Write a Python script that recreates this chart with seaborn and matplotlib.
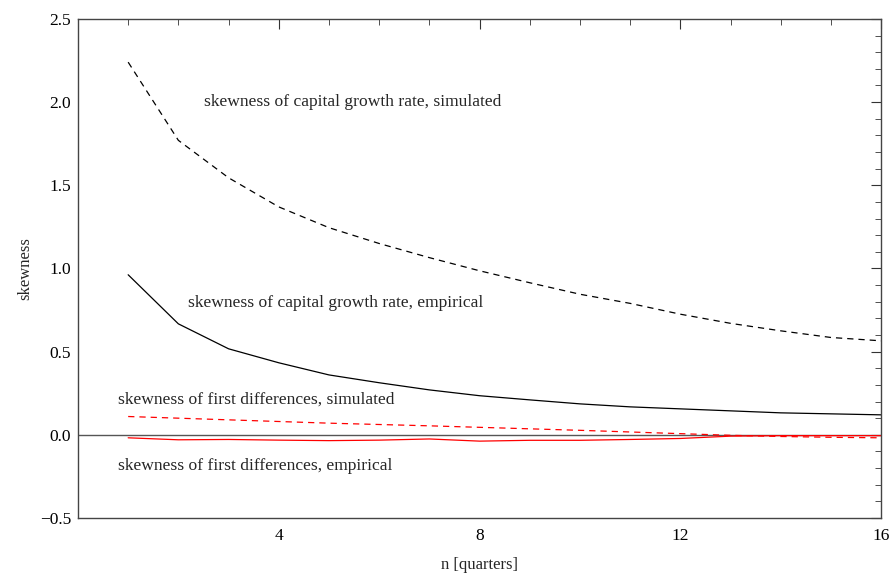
import numpy as np
import pandas as pd
import matplotlib
matplotlib.use("Agg")
import matplotlib.pyplot as plt
import seaborn as sns
from matplotlib.ticker import MultipleLocator, FixedLocator

sns.set_theme(style="white")
plt.rcParams['font.family'] = ['Liberation Serif', 'DejaVu Serif']
plt.rcParams['axes.unicode_minus'] = True

# quarters
n = list(range(1, 17))

# skewness of capital growth rate
cap_sim = [2.24, 1.77, 1.545, 1.37, 1.245, 1.15, 1.065, 0.986, 0.914, 0.845,
           0.79, 0.725, 0.67, 0.625, 0.585, 0.565]
cap_emp = [0.962, 0.667, 0.517, 0.433, 0.36, 0.313, 0.27, 0.235, 0.21, 0.186,
           0.168, 0.156, 0.144, 0.132, 0.126, 0.12]

# skewness of first differences
diff_sim = [0.11, 0.10, 0.09, 0.08, 0.07, 0.062, 0.054, 0.045, 0.036, 0.027,
            0.017, 0.007, -0.003, -0.01, -0.015, -0.018]
diff_emp = [-0.018, -0.03, -0.028, -0.032, -0.035, -0.032, -0.025, -0.038, -0.033,
            -0.033, -0.028, -0.022, -0.008, -0.005, -0.005, -0.005]

x_ticks = [4, 8, 12, 16]

df = pd.DataFrame({'n': n, 'cap_sim': cap_sim, 'cap_emp': cap_emp,
                   'diff_sim': diff_sim, 'diff_emp': diff_emp})

fig, ax = plt.subplots(figsize=(8.91, 5.73), dpi=100)
fig.subplots_adjust(left=0.0875, right=0.989, top=0.967, bottom=0.096)

ax.axhline(0, color='#555555', lw=1.0, zorder=1)

sns.lineplot(data=df, x='n', y='cap_sim', ax=ax, color='black', lw=0.9,
             linestyle=(0, (5, 4)))
sns.lineplot(data=df, x='n', y='cap_emp', ax=ax, color='black', lw=0.9)
sns.lineplot(data=df, x='n', y='diff_sim', ax=ax, color='red', lw=0.9,
             linestyle=(0, (5, 4)))
sns.lineplot(data=df, x='n', y='diff_emp', ax=ax, color='red', lw=0.9)

fs = 12.6
ax.text(2.52, 2.0, 'skewness of capital growth rate, simulated', fontsize=fs, va='center')
ax.text(2.2, 0.79, 'skewness of capital growth rate, empirical', fontsize=fs, va='center')
ax.text(0.8, 0.21, 'skewness of first differences, simulated', fontsize=fs, va='center')
ax.text(0.8, -0.19, 'skewness of first differences, empirical', fontsize=fs, va='center')

ax.set_xlim(0, 16)
ax.set_ylim(-0.5, 2.5)
ax.xaxis.set_major_locator(FixedLocator(x_ticks))
ax.xaxis.set_minor_locator(MultipleLocator(1))
ax.yaxis.set_major_locator(MultipleLocator(0.5))
ax.yaxis.set_minor_locator(MultipleLocator(0.1))
ax.tick_params(which='both', direction='in', top=True, right=True,
               labeltop=False, labelright=False, colors='#333333',
               labelcolor='black', labelsize=12.5)
ax.tick_params(which='major', length=7, width=0.8)
ax.tick_params(which='minor', length=4, width=0.6)
ax.tick_params(axis='x', which='major', pad=7.5)
ax.tick_params(axis='y', which='major', pad=5)
ax.set_yticklabels([f'{v:.1f}'.replace('-', '\u2212') for v in ax.get_yticks()])

for s in ax.spines.values():
    s.set_color('#444444')
    s.set_linewidth(1.0)

ax.set_xlabel('n [quarters]', fontsize=12, labelpad=9)
ax.set_ylabel('skewness', fontsize=12, labelpad=5)

plt.savefig('out.png', dpi=100)
